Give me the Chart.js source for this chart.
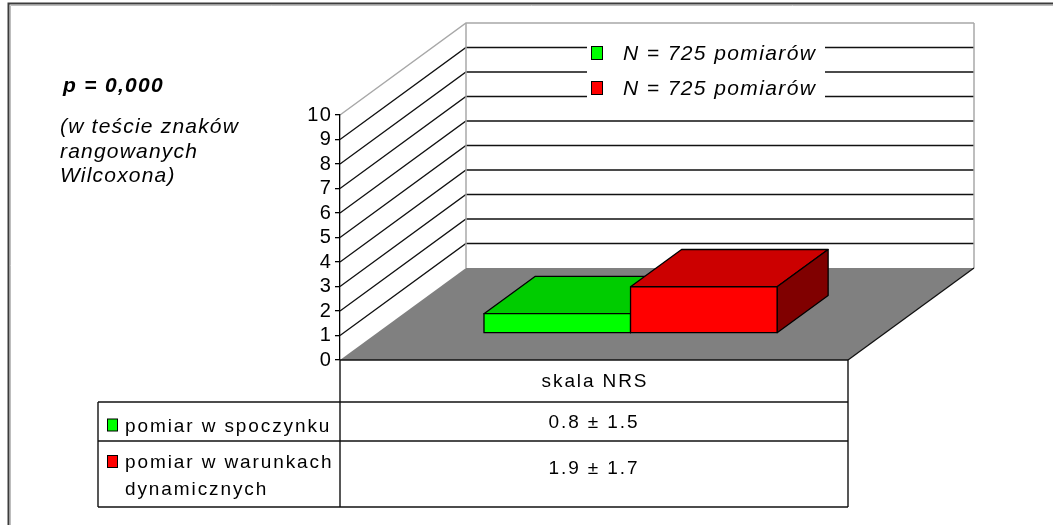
<!DOCTYPE html>
<html>
<head>
<meta charset="utf-8">
<script src="https://cdn.jsdelivr.net/npm/chart.js@4/dist/chart.umd.min.js"></script>
<style>
  html, body { margin: 0; padding: 0; background: #ffffff; }
  canvas { display: block; }
</style>
</head>
<body>
<canvas id="chart" width="1053" height="525"></canvas>
<script>
// ---- data ----
const categories = ['skala NRS'];
const seriesNames = ['pomiar w spoczynku', 'pomiar w warunkach dynamicznych'];
const seriesMeans = [0.8, 1.9];
const seriesSD = [1.5, 1.7];
const legendLabels = ['N = 725 pomiarów', 'N = 725 pomiarów'];
const yTickValues = [0, 1, 2, 3, 4, 5, 6, 7, 8, 9, 10];
const noteTitle = 'p = 0,000';
const noteLines = ['(w teście znaków', 'rangowanych', 'Wilcoxona)'];

// ---- styling ----
const palette = [
  { front: '#00ff00', top: '#00cc00', side: '#008000' },
  { front: '#ff0000', top: '#cc0000', side: '#800000' }
];
const FONT = "'Liberation Sans', Arial, sans-serif";
const DEPTH = { dx: 126, dy: -92 };      // oblique depth of the floor
const BAR_FRONT = 0.29;                   // gap in front of the boxes (fraction of depth)
const BAR_DEPTH = 0.405;                  // box depth (fraction of depth)

function line(ctx, x1, y1, x2, y2) {
  ctx.beginPath(); ctx.moveTo(x1, y1); ctx.lineTo(x2, y2); ctx.stroke();
}

// floor, side wall and back wall with their gridlines
const wallsPlugin = {
  id: 'walls',
  beforeDraw(chart) {
    const ctx = chart.ctx;
    const { left, right, top, bottom } = chart.chartArea;
    const ys = chart.scales.y;
    const { dx, dy } = DEPTH;
    ctx.save();
    ctx.letterSpacing = '0px';
    ctx.fillStyle = '#808080';
    ctx.beginPath();
    ctx.moveTo(left, bottom); ctx.lineTo(right, bottom);
    ctx.lineTo(right + dx, bottom + dy); ctx.lineTo(left + dx, bottom + dy);
    ctx.closePath(); ctx.fill();

    const maxV = yTickValues[yTickValues.length - 1];
    yTickValues.forEach(v => {
      if (v === 0) return;
      const py = ys.getPixelForValue(v);
      ctx.strokeStyle = v === maxV ? '#a8a8a8' : '#111111';
      ctx.lineWidth = v === maxV ? 1.5 : 1.3;
      ctx.beginPath();
      ctx.moveTo(left, py);
      ctx.lineTo(left + dx, py + dy);
      ctx.lineTo(right + dx, py + dy);
      ctx.stroke();
    });
    ctx.strokeStyle = '#a8a8a8';
    ctx.lineWidth = 1.5;
    line(ctx, left + dx, bottom + dy, left + dx, top + dy);
    line(ctx, right + dx, bottom + dy, right + dx, top + dy);
    ctx.strokeStyle = '#111111';
    ctx.lineWidth = 1.3;
    line(ctx, right, bottom, right + dx, bottom + dy);
    ctx.restore();
    ctx.letterSpacing = '1.2px';
  }
};

// 3-D boxes built from each bar element's scale positions
const boxesPlugin = {
  id: 'boxes',
  afterDatasetsDraw(chart) {
    const ctx = chart.ctx;
    const ox = DEPTH.dx * BAR_FRONT, oy = DEPTH.dy * BAR_FRONT;
    const bx = DEPTH.dx * BAR_DEPTH, by = DEPTH.dy * BAR_DEPTH;
    ctx.save();
    ctx.strokeStyle = '#000000';
    ctx.lineWidth = 1.3;
    ctx.lineJoin = 'round';
    chart.data.datasets.forEach((ds, i) => {
      const meta = chart.getDatasetMeta(i);
      const c = palette[i];
      meta.data.forEach(el => {
        const L = el.x - el.width / 2 + ox, R = el.x + el.width / 2 + ox;
        const T = el.y + oy, B = el.base + oy;
        // top face
        ctx.fillStyle = c.top;
        ctx.beginPath();
        ctx.moveTo(L, T); ctx.lineTo(R, T); ctx.lineTo(R + bx, T + by); ctx.lineTo(L + bx, T + by);
        ctx.closePath(); ctx.fill(); ctx.stroke();
        // right side face
        ctx.fillStyle = c.side;
        ctx.beginPath();
        ctx.moveTo(R, T); ctx.lineTo(R + bx, T + by); ctx.lineTo(R + bx, B + by); ctx.lineTo(R, B);
        ctx.closePath(); ctx.fill(); ctx.stroke();
        // front face
        ctx.fillStyle = c.front;
        ctx.beginPath();
        ctx.rect(L, T, R - L, B - T);
        ctx.fill(); ctx.stroke();
      });
    });
    ctx.restore();
  }
};

function wrapText(ctx, text, maxW) {
  const words = text.split(' ');
  const out = [];
  let cur = '';
  words.forEach(w => {
    const test = cur ? cur + ' ' + w : w;
    if (cur && ctx.measureText(test).width > maxW) { out.push(cur); cur = w; }
    else cur = test;
  });
  if (cur) out.push(cur);
  return out;
}

// legend, note text, data table and outer frame
const overlayPlugin = {
  id: 'overlay',
  afterDraw(chart) {
    const ctx = chart.ctx;
    const { left, right, bottom } = chart.chartArea;
    const xs = chart.scales.x;
    ctx.save();
    ctx.textBaseline = 'alphabetic';

    // legend
    ctx.fillStyle = '#ffffff';
    ctx.fillRect(587, 36, 238, 72);
    const legY = [60, 95];
    legendLabels.forEach((t, i) => {
      ctx.fillStyle = palette[i].front;
      ctx.fillRect(591.5, legY[i] - 13.5, 11, 13);
      ctx.strokeStyle = '#000'; ctx.lineWidth = 1;
      ctx.strokeRect(591.5, legY[i] - 13.5, 11, 13);
      ctx.fillStyle = '#000';
      ctx.letterSpacing = '1.4px';
      ctx.font = `italic 21px ${FONT}`;
      ctx.textAlign = 'left';
      ctx.fillText(t, 623, legY[i]);
    });

    // note
    ctx.fillStyle = '#000';
    ctx.textAlign = 'left';
    ctx.letterSpacing = '1.3px';
    ctx.font = `italic bold 21px ${FONT}`;
    ctx.fillText(noteTitle, 63, 92);
    ctx.letterSpacing = '1.2px';
    ctx.font = `italic 21px ${FONT}`;
    noteLines.forEach((t, i) => ctx.fillText(t, 60, 133 + i * 24.5));

    // data table
    const tLeft = 98;
    const rowTops = [402, 441];
    const tBottom = 507;
    ctx.strokeStyle = '#111';
    ctx.lineWidth = 1.4;
    line(ctx, left, bottom, right, bottom);
    line(ctx, left, bottom, left, tBottom);
    line(ctx, right, bottom, right, tBottom);
    line(ctx, tLeft, rowTops[0], tLeft, tBottom);
    rowTops.concat([tBottom]).forEach(y => line(ctx, tLeft, y, right, y));

    ctx.letterSpacing = '1.9px';
    ctx.font = `19px ${FONT}`;
    ctx.textAlign = 'center';
    const cx = xs.getPixelForValue(0);
    ctx.fillText(categories[0], cx + 1, 387);

    const valueBase = [428, 474];
    const labelBase = [431.5, 468];
    seriesNames.forEach((name, i) => {
      ctx.fillStyle = palette[i].front;
      ctx.fillRect(107.5, labelBase[i] - 12.5, 10, 12);
      ctx.strokeStyle = '#000'; ctx.lineWidth = 1;
      ctx.strokeRect(107.5, labelBase[i] - 12.5, 10, 12);
      ctx.fillStyle = '#000';
      ctx.textAlign = 'left';
      const lines = wrapText(ctx, name, left - 128);
      lines.forEach((t, k) => ctx.fillText(t, 125, labelBase[i] + k * 27));
      ctx.textAlign = 'center';
      ctx.fillText(`${seriesMeans[i].toFixed(1)} ± ${seriesSD[i].toFixed(1)}`, cx, valueBase[i]);
    });

    // outer frame (top and left edges)
    ctx.strokeStyle = '#3c3c3c';
    ctx.lineWidth = 2;
    ctx.beginPath();
    ctx.moveTo(8.5, 525); ctx.lineTo(8.5, 3.5); ctx.lineTo(1053, 3.5);
    ctx.stroke();
    ctx.strokeStyle = '#bdbdbd';
    ctx.lineWidth = 1;
    ctx.beginPath();
    ctx.moveTo(10.5, 525); ctx.lineTo(10.5, 5.5); ctx.lineTo(1053, 5.5);
    ctx.stroke();
    ctx.restore();
  }
};

new Chart(document.getElementById('chart'), {
  type: 'bar',
  data: {
    labels: categories,
    datasets: seriesNames.map((name, i) => ({
      label: name,
      data: [seriesMeans[i]],
      backgroundColor: 'rgba(0,0,0,0)',
      borderWidth: 0,
      categoryPercentage: 0.577,
      barPercentage: 1
    }))
  },
  options: {
    responsive: false,
    animation: false,
    events: [],
    layout: { padding: { left: 280, top: 115, right: 205, bottom: 165 } },
    scales: {
      x: { display: false, offset: true },
      y: {
        min: 0, max: 10,
        afterBuildTicks(scale) { scale.ticks = yTickValues.map(v => ({ value: v })); },
        afterFit(scale) { scale.width = 60; },
        ticks: { color: '#000', padding: 3, autoSkip: false, font: { family: FONT, size: 20 } },
        grid: { drawOnChartArea: false, drawTicks: true, tickLength: 5, color: '#000', lineWidth: 1.3 },
        border: { color: '#000', width: 1.3 }
      }
    },
    plugins: { legend: { display: false }, tooltip: { enabled: false } }
  },
  plugins: [wallsPlugin, boxesPlugin, overlayPlugin]
});
</script>
</body>
</html>
